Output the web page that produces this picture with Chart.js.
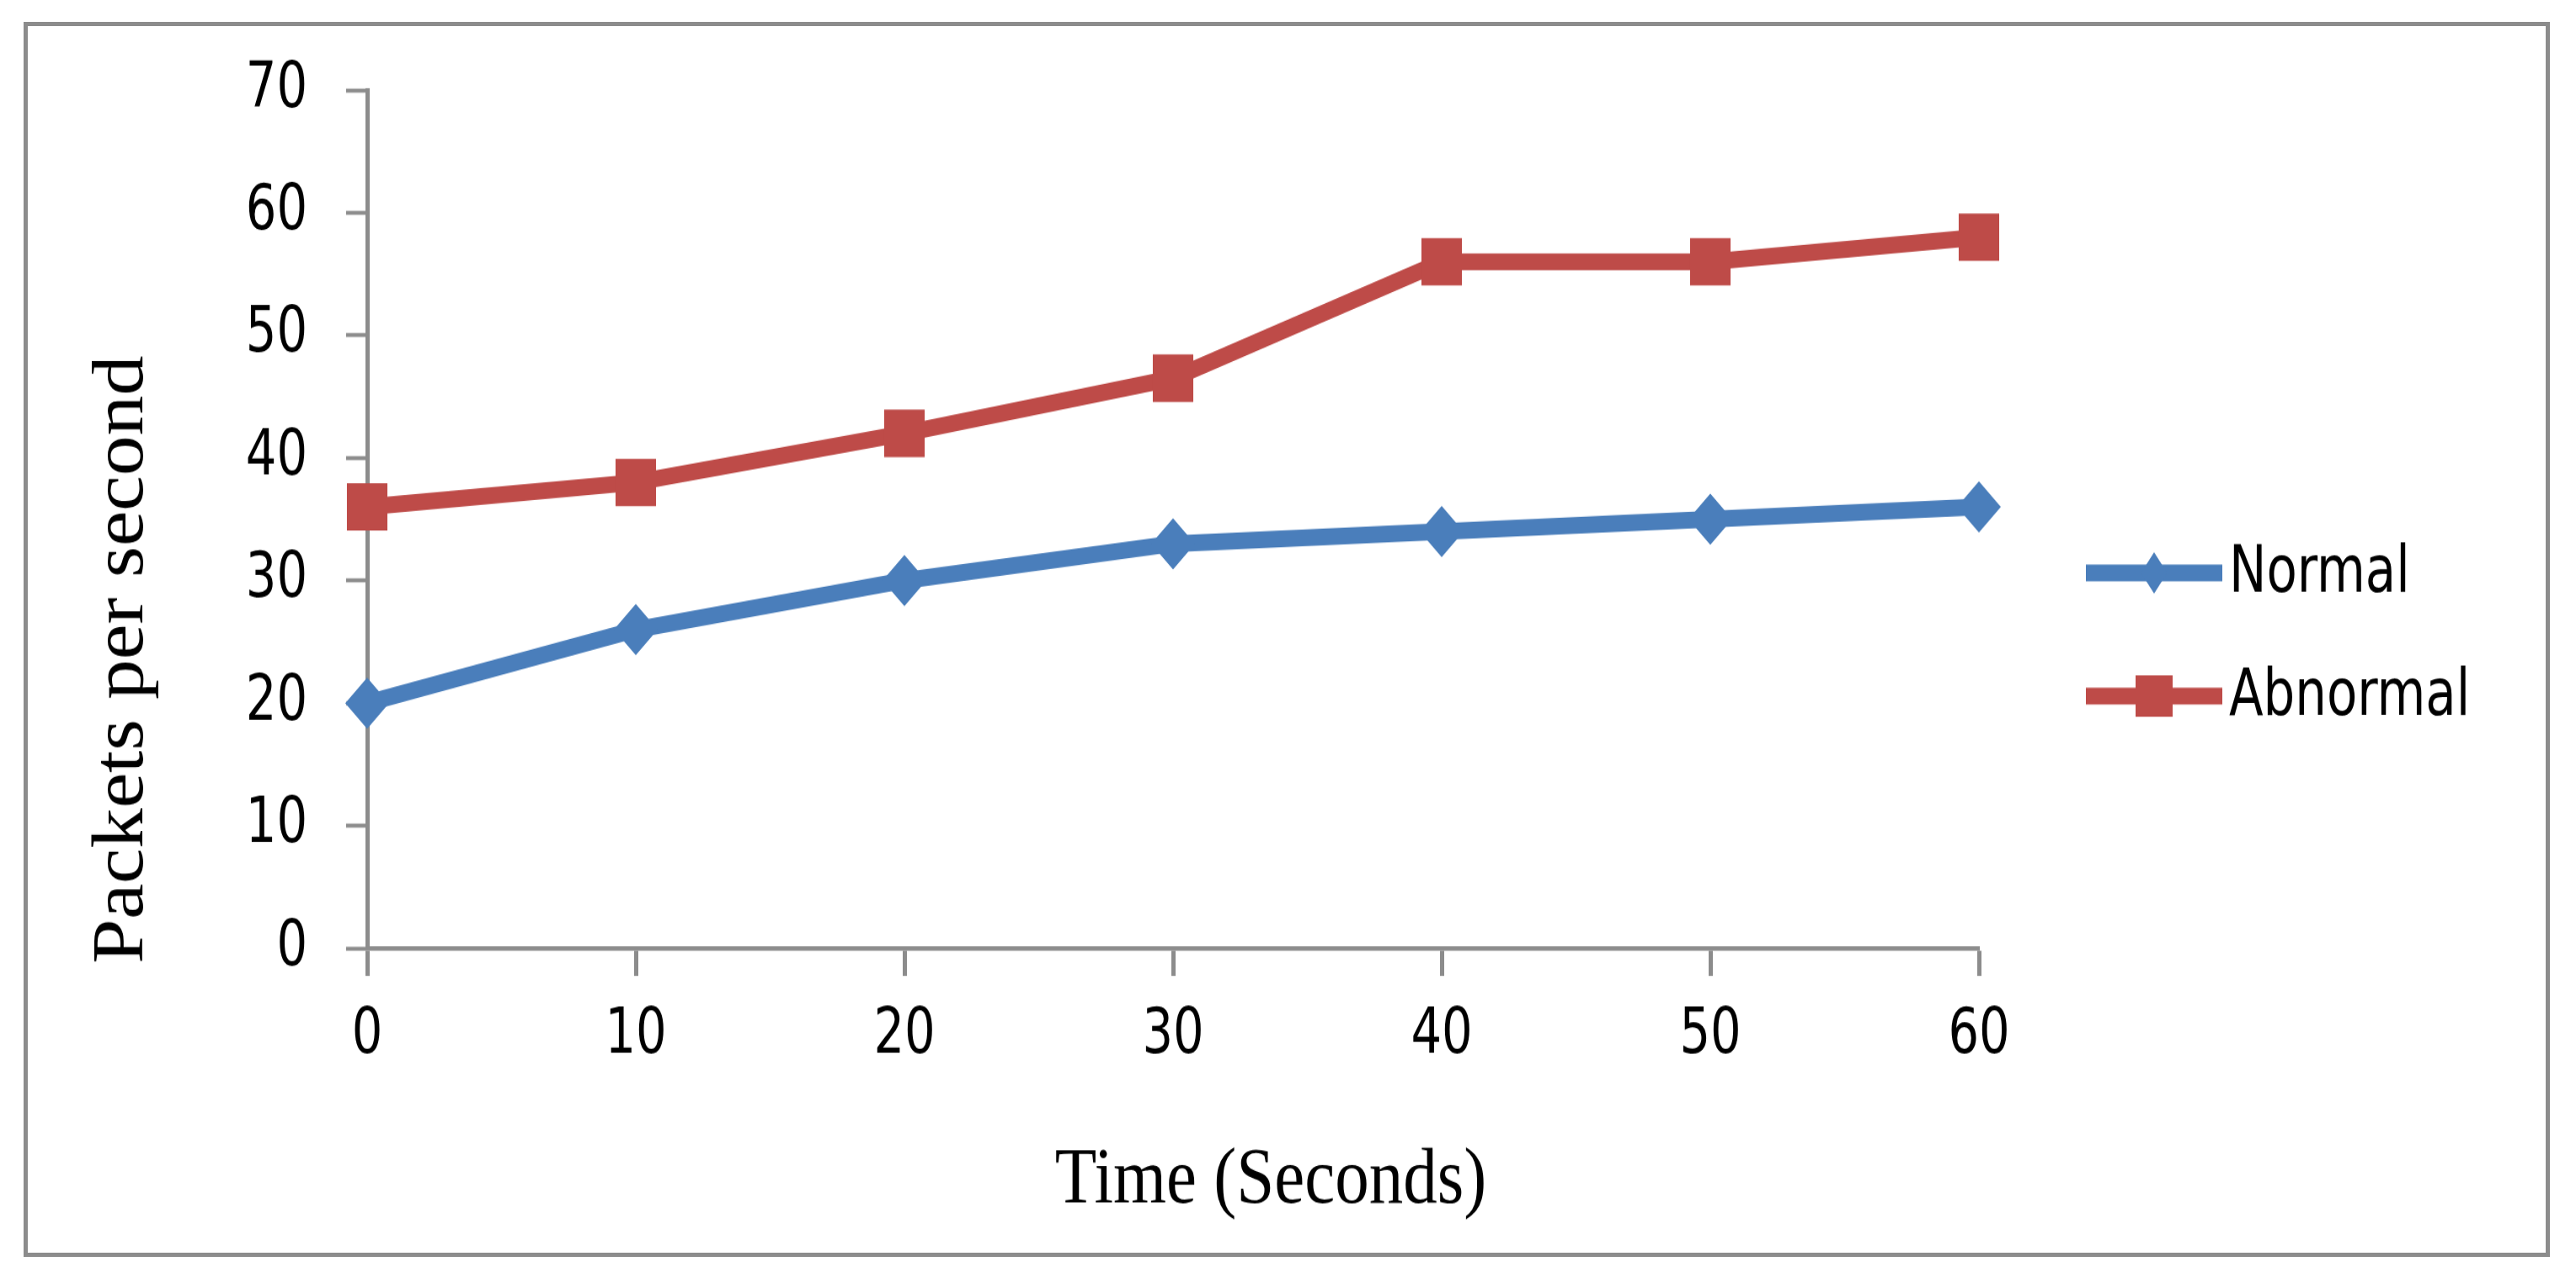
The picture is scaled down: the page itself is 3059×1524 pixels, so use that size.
<!DOCTYPE html>
<html lang="en">
<head>
<meta charset="UTF-8">
<title>Packets per second</title>
<script src="https://cdn.jsdelivr.net/npm/chart.js"></script>
<style>
  html, body { margin: 0; padding: 0; background: #fff; }
  #frame {
    position: absolute; left: 28px; top: 26px;
    width: 3000px; height: 1467px;
    border: 5px solid #8c8c8c; box-sizing: border-box;
  }
  /* the original picture is stretched vertically, so the canvas is too */
  #chart { display: block; width: 2990px; height: 1457px; }
</style>
</head>
<body>
<div id="frame"><canvas id="chart" width="2990" height="1245" style="width:2990px;height:1457px"></canvas></div>
<script>
// data
const timeLabels = ['0', '10', '20', '30', '40', '50', '60'];
const normalValues = [20, 26, 30, 33, 34, 35, 36];
const abnormalValues = [36, 38, 42, 46.5, 56, 56, 58];
const seriesNames = ['Normal', 'Abnormal'];
const xTitle = 'Time (Seconds)';
const yTitle = 'Packets per second';

const blue = '#4A7EBB';
const red = '#BE4B48';
const axisGray = '#8c8c8c';
const narrowFont = "'Liberation Sans Narrow', 'DejaVu Sans Condensed', 'Arial Narrow', sans-serif";
const serifFont = "'Liberation Serif', 'DejaVu Serif', 'Times New Roman', serif";

function drawMarker(ctx, style, x, y, w, h, color) {
  ctx.fillStyle = color;
  ctx.beginPath();
  if (style === 'rect') {
    ctx.rect(x - w / 2, y - h / 2, w, h);
  } else {
    ctx.moveTo(x, y - h / 2);
    ctx.lineTo(x + w / 2, y);
    ctx.lineTo(x, y + h / 2);
    ctx.lineTo(x - w / 2, y);
    ctx.closePath();
  }
  ctx.fill();
}

// axis titles and the line+marker legend, placed like the original
const decorations = {
  id: 'decorations',
  afterDraw(chart) {
    const ctx = chart.ctx;
    ctx.save();
    ctx.fillStyle = '#000';

    // x title
    ctx.font = '81px ' + serifFont;
    ctx.textAlign = 'center';
    ctx.textBaseline = 'alphabetic';
    ctx.fillText(xTitle, 1476, 1194);

    // y title
    ctx.save();
    ctx.font = '86px ' + serifFont;
    ctx.textAlign = 'center';
    ctx.textBaseline = 'middle';
    ctx.translate(113, 643);
    ctx.rotate(-Math.PI / 2);
    ctx.scale(0.943, 1);
    ctx.fillText(yTitle, 0, 0);
    ctx.restore();

    // legend
    const rows = [555, 680];
    const marks = [[31, 42], [44, 42]];
    chart.data.datasets.forEach((ds, i) => {
      const y = rows[i];
      ctx.strokeStyle = ds.borderColor;
      ctx.lineWidth = ds.borderWidth;
      ctx.beginPath();
      ctx.moveTo(2444, y);
      ctx.lineTo(2606, y);
      ctx.stroke();
      drawMarker(ctx, ds.pointStyle, 2525, y, marks[i][0], marks[i][1], ds.borderColor);
      ctx.fillStyle = '#000';
      ctx.font = '66px ' + narrowFont;
      ctx.textAlign = 'left';
      ctx.textBaseline = 'middle';
      ctx.fillText(ds.label, 2614, y + 2);
    });
    ctx.restore();
  }
};

new Chart(document.getElementById('chart'), {
  type: 'line',
  data: {
    labels: timeLabels,
    datasets: [{
      label: seriesNames[0],
      data: normalValues,
      borderColor: blue,
      backgroundColor: blue,
      borderWidth: 17,
      pointStyle: 'rectRot',
      pointRadius: 26,
      pointBorderWidth: 0,
      pointBackgroundColor: blue,
      tension: 0
    }, {
      label: seriesNames[1],
      data: abnormalValues,
      borderColor: red,
      backgroundColor: red,
      borderWidth: 17,
      pointStyle: 'rect',
      pointRadius: 34,
      pointBorderWidth: 0,
      pointBackgroundColor: red,
      tension: 0
    }]
  },
  options: {
    responsive: false,
    animation: false,
    devicePixelRatio: 1,
    layout: { padding: { top: 65, right: 673, left: 0, bottom: 0 } },
    plugins: {
      legend: { display: false },
      tooltip: { enabled: false }
    },
    scales: {
      x: {
        offset: false,
        grid: { drawOnChartArea: false, drawTicks: true, tickLength: 28, tickColor: axisGray, tickWidth: 5 },
        border: { color: axisGray, width: 4.5 },
        ticks: { color: '#000', font: { family: narrowFont, size: 64 }, padding: 23, maxRotation: 0 },
        afterFit(scale) { scale.height = 309; }
      },
      y: {
        min: 0,
        max: 70,
        // small lineHeight so the top label does not push the plot down
        ticks: { stepSize: 10, color: '#000', font: { family: narrowFont, size: 64, lineHeight: 0.5 }, padding: 46 },
        grid: { drawOnChartArea: false, drawTicks: true, tickLength: 25, tickColor: axisGray, tickWidth: 4 },
        border: { color: axisGray, width: 5 },
        afterFit(scale) { scale.width = 403; }
      }
    }
  },
  plugins: [decorations]
});
</script>
</body>
</html>
